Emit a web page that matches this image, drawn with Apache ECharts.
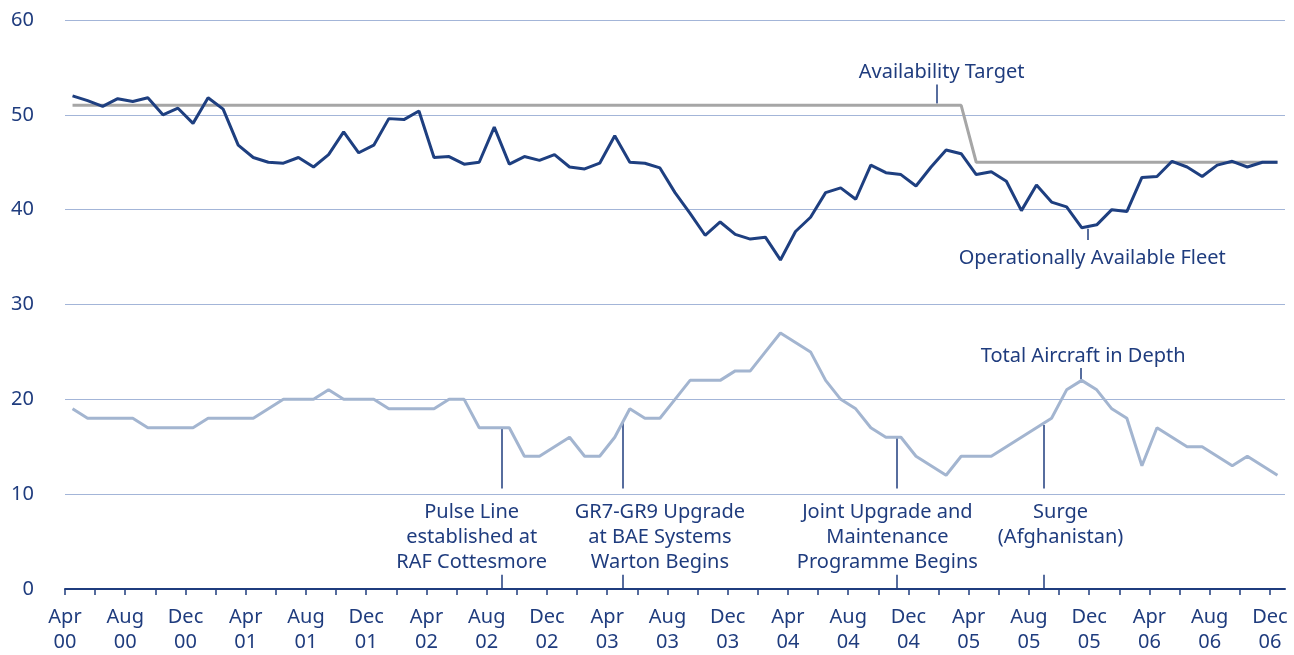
<!DOCTYPE html>
<html>
<head>
<meta charset="utf-8">
<script src="https://cdn.jsdelivr.net/npm/echarts@6/dist/echarts.min.js"></script>
<style>
html, body { margin: 0; padding: 0; background: #fff; }
#chart { width: 1294px; height: 655px; }
</style>
</head>
<body>
<div id="chart"></div>
<script>
/*----- data -----*/
// x tick labels, one every 4 months (Apr 00 .. Dec 06)
var tickLabels = ['Apr\n00','Aug\n00','Dec\n00','Apr\n01','Aug\n01','Dec\n01','Apr\n02','Aug\n02','Dec\n02',
	'Apr\n03','Aug\n03','Dec\n03','Apr\n04','Aug\n04','Dec\n04','Apr\n05','Aug\n05','Dec\n05','Apr\n06','Aug\n06','Dec\n06'];

// Operationally Available Fleet, monthly Apr 00 .. Dec 06
var fleet = [52.0,51.5,50.9,51.7,51.4,51.8,50.0,50.7,49.1,51.8,50.6,46.8,45.5,45.0,44.9,45.5,44.5,45.8,48.2,46.0,
	46.8,49.6,49.5,50.4,45.5,45.6,44.8,45.0,48.7,44.8,45.6,45.2,45.8,44.5,44.3,44.9,47.8,45.0,44.9,44.4,
	41.8,39.6,37.3,38.7,37.4,36.9,37.1,34.7,37.7,39.2,41.8,42.3,41.1,44.7,43.9,43.7,42.5,44.5,46.3,45.9,
	43.7,44.0,43.0,39.9,42.6,40.8,40.3,38.1,38.4,40.0,39.8,43.4,43.5,45.1,44.5,43.5,44.7,45.1,44.5,45.0,45.0];

// Availability Target
var target = [51,51,51,51,51,51,51,51,51,51,51,51,51,51,51,51,51,51,51,51,
	51,51,51,51,51,51,51,51,51,51,51,51,51,51,51,51,51,51,51,51,
	51,51,51,51,51,51,51,51,51,51,51,51,51,51,51,51,51,51,51,51,
	45,45,45,45,45,45,45,45,45,45,45,45,45,45,45,45,45,45,45,45,45];

// Total Aircraft in Depth
var depth = [19,18,18,18,18,17,17,17,17,18,18,18,18,19,20,20,20,21,20,20,
	20,19,19,19,19,20,20,17,17,17,14,14,15,16,14,14,16,19,18,18,
	20,22,22,22,23,23,25,27,26,25,22,20,19,17,16,16,14,13,12,14,
	14,14,15,16,17,18,21,22,21,19,18,13,17,16,15,15,14,13,14,13,12];

// events (month position, series level at marker)
var eventNames = ['Pulse Line\nestablished at\nRAF Cottesmore', 'GR7-GR9 Upgrade\nat BAE Systems\nWarton Begins',
	'Joint Upgrade and\nMaintenance\nProgramme Begins', 'Surge\n(Afghanistan)'];
var eventX = [29, 37.05, 55.2, 65];
var eventTop = [16.9, 17.5, 16.0, 17.3];
var eventTextX = [27.0, 39.5, 54.6, 66.1];
var eventTextY = [5.5, 5.5, 5.5, 6.8];

// series labels
var seriesNames = ['Availability Target', 'Operationally Available Fleet', 'Total Aircraft in Depth'];
var seriesLabelPos = [[58.2, 54.5], [68.2, 34.9], [67.6, 24.5]];
var seriesLeader = [[[57.9, 53.2], [57.9, 51.2]], [[67.9, 38.0], [67.9, 36.8]], [[67.45, 23.3], [67.45, 22.1]]];

/*----- chart -----*/
function drawFleetChart(id){
	var navy = '#1f3c7e';
	var font = 'Noto Sans';
	function pts(arr){
		var out = [];
		for(var i = 0; i < arr.length; i++){
			out.push([i + 0.5, arr[i]]);
		}
		return out;
	}
	var tickVals = [];
	for(var t = 0; t <= 80; t += 2){ tickVals.push(t); }
	var labelVals = [];
	for(var l = 0; l <= 80; l += 4){ labelVals.push(l); }

	var leaders = [];
	var axisMarks = [];
	var texts = [];
	for(var i = 0; i < eventX.length; i++){
		leaders.push({coords: [[eventX[i], eventTop[i]], [eventX[i], 10.6]]});
		axisMarks.push({coords: [[eventX[i], 1.5], [eventX[i], 0]]});
		texts.push({value: [eventTextX[i], eventTextY[i]], name: eventNames[i]});
	}
	for(var j = 0; j < seriesNames.length; j++){
		leaders.push({coords: seriesLeader[j]});
		texts.push({value: seriesLabelPos[j], name: seriesNames[j]});
	}

	var option = {
		animation: false,
		grid: { left: 65, right: 9, top: 20, bottom: 65 },
		xAxis: {
			type: 'value',
			min: 0,
			max: 81,
			axisLine: { show: true, lineStyle: { color: navy, width: 2 } },
			axisTick: { show: true, customValues: tickVals, length: 6, lineStyle: { color: navy, width: 1.5 } },
			axisLabel: {
				customValues: labelVals,
				formatter: function(v){ return tickLabels[Math.round(v / 4)]; },
				color: navy,
				fontFamily: font,
				fontSize: 20,
				lineHeight: 25,
				margin: 16
			},
			splitLine: { show: false }
		},
		yAxis: {
			type: 'value',
			min: 0,
			max: 60,
			interval: 10,
			axisLine: { show: false },
			axisTick: { show: false },
			axisLabel: { color: navy, fontFamily: font, fontSize: 20, margin: 31 },
			splitLine: { show: true, lineStyle: { color: '#a3b5d8', width: 1 } }
		},
		series: [
			{
				name: 'Total Aircraft in Depth',
				type: 'line',
				data: pts(depth),
				symbol: 'none',
				lineStyle: { color: '#a3b5d0', width: 3 },
				z: 3
			},
			{
				name: 'Availability Target',
				type: 'line',
				data: pts(target),
				symbol: 'none',
				lineStyle: { color: '#a6a6a6', width: 3 },
				z: 4
			},
			{
				name: 'Operationally Available Fleet',
				type: 'line',
				data: pts(fleet),
				symbol: 'none',
				lineStyle: { color: '#1e3f80', width: 3 },
				z: 5
			},
			{
				name: 'leaders',
				type: 'lines',
				coordinateSystem: 'cartesian2d',
				data: leaders.concat(axisMarks),
				lineStyle: { color: navy, width: 1.5, opacity: 1 },
				z: 2
			},
			{
				name: 'texts',
				type: 'scatter',
				data: texts,
				symbolSize: 0,
				itemStyle: { opacity: 1 },
				label: {
					show: true,
					position: [0, 0],
					align: 'center',
					verticalAlign: 'middle',
					formatter: '{b}',
					color: navy,
					opacity: 1,
					fontFamily: font,
					fontSize: 20,
					lineHeight: 25
				},
				z: 6
			}
		]
	};
	echarts.init(document.getElementById(id)).setOption(option, true);
}
drawFleetChart('chart');
</script>
</body>
</html>
